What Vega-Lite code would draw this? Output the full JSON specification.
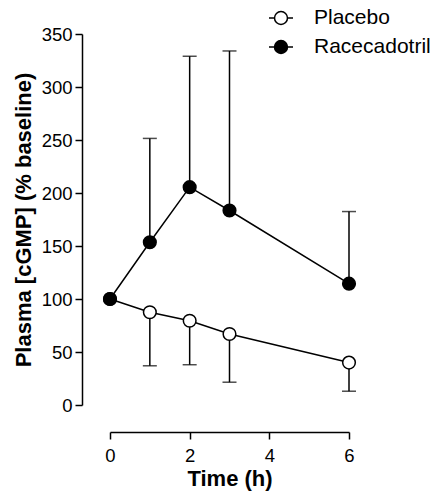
{
  "$schema": "https://vega.github.io/schema/vega-lite/v6.json",
  "autosize": "none",
  "width": 239,
  "height": 371,
  "padding": {"left": 110, "top": 34, "right": 92, "bottom": 92},
  "background": "white",
  "config": {
    "view": {"stroke": null},
    "font": "Liberation Sans",
    "axis": {
      "grid": false,
      "domainColor": "black",
      "domainWidth": 1.5,
      "tickColor": "black",
      "tickWidth": 1.5,
      "tickSize": 7,
      "labelColor": "black",
      "labelFont": "Liberation Sans",
      "labelFontSize": 18.5,
      "labelFlush": false,
      "labelOverlap": false,
      "titleColor": "black",
      "titleFont": "Liberation Sans",
      "titleFontSize": 22,
      "titleFontWeight": "bold"
    }
  },
  "data": {
    "values": [
      {"time": 0, "group": "Placebo", "mean": 100, "err": null},
      {"time": 1, "group": "Placebo", "mean": 87.5, "err": 37},
      {"time": 2, "group": "Placebo", "mean": 79.5, "err": 38},
      {"time": 3, "group": "Placebo", "mean": 67, "err": 21.5},
      {"time": 6, "group": "Placebo", "mean": 40, "err": 13},
      {"time": 0, "group": "Racecadotril", "mean": 100, "err": null},
      {"time": 1, "group": "Racecadotril", "mean": 153.5, "err": 251.5},
      {"time": 2, "group": "Racecadotril", "mean": 205.5, "err": 329},
      {"time": 3, "group": "Racecadotril", "mean": 183.5, "err": 334},
      {"time": 6, "group": "Racecadotril", "mean": 114.5, "err": 182.5}
    ]
  },
  "encoding": {
    "x": {
      "field": "time",
      "type": "quantitative",
      "scale": {"domain": [0, 6], "nice": false, "zero": false},
      "axis": {
        "title": "Time (h)",
        "values": [0, 2, 4, 6],
        "offset": 27,
        "labelPadding": 7,
        "titlePadding": 4
      }
    },
    "y": {
      "field": "mean",
      "type": "quantitative",
      "scale": {"domain": [0, 350], "nice": false},
      "axis": {
        "title": "Plasma [cGMP] (% baseline)",
        "values": [0, 50, 100, 150, 200, 250, 300, 350],
        "offset": 28,
        "labelPadding": 3,
        "titlePadding": 6
      }
    }
  },
  "layer": [
    {
      "data": {"values": [{}]},
      "mark": {"type": "rule", "color": "black", "strokeWidth": 1, "strokeDash": [4, 3]},
      "encoding": {
        "x": {"datum": -0.7, "type": "quantitative"},
        "x2": {"datum": 6},
        "y": {"datum": 100, "type": "quantitative"}
      }
    },
    {
      "transform": [{"filter": "datum.err != null"}],
      "mark": {"type": "rule", "color": "black", "strokeWidth": 1.5},
      "encoding": {
        "y2": {"field": "err"}
      }
    },
    {
      "transform": [{"filter": "datum.err != null"}],
      "mark": {"type": "tick", "orient": "horizontal", "color": "black", "size": 14, "thickness": 1.5},
      "encoding": {
        "y": {"field": "err", "type": "quantitative"}
      }
    },
    {
      "mark": {"type": "line", "color": "black", "strokeWidth": 1.5},
      "encoding": {
        "detail": {"field": "group"}
      }
    },
    {
      "mark": {"type": "circle", "size": 160, "stroke": "black", "strokeWidth": 1.5, "opacity": 1, "fillOpacity": 1},
      "encoding": {
        "fill": {
          "field": "group",
          "type": "nominal",
          "scale": {"domain": ["Placebo", "Racecadotril"], "range": ["white", "black"]},
          "legend": {
            "title": null,
            "orient": "none",
            "legendX": 158,
            "legendY": -29,
            "padding": 0,
            "symbolType": "M-1,0L-0.54,0M0.54,0L1,0M-0.54,0A0.54,0.54,0,1,1,0.54,0A0.54,0.54,0,1,1,-0.54,0Z",
            "symbolSize": 576,
            "symbolStrokeColor": "black",
            "symbolStrokeWidth": 1.5,
            "symbolOpacity": 1,
            "labelFont": "Liberation Sans",
            "labelFontSize": 21,
            "labelColor": "black",
            "labelOffset": 20,
            "rowPadding": 6,
            "labelLimit": 300
          }
        }
      }
    }
  ]
}
